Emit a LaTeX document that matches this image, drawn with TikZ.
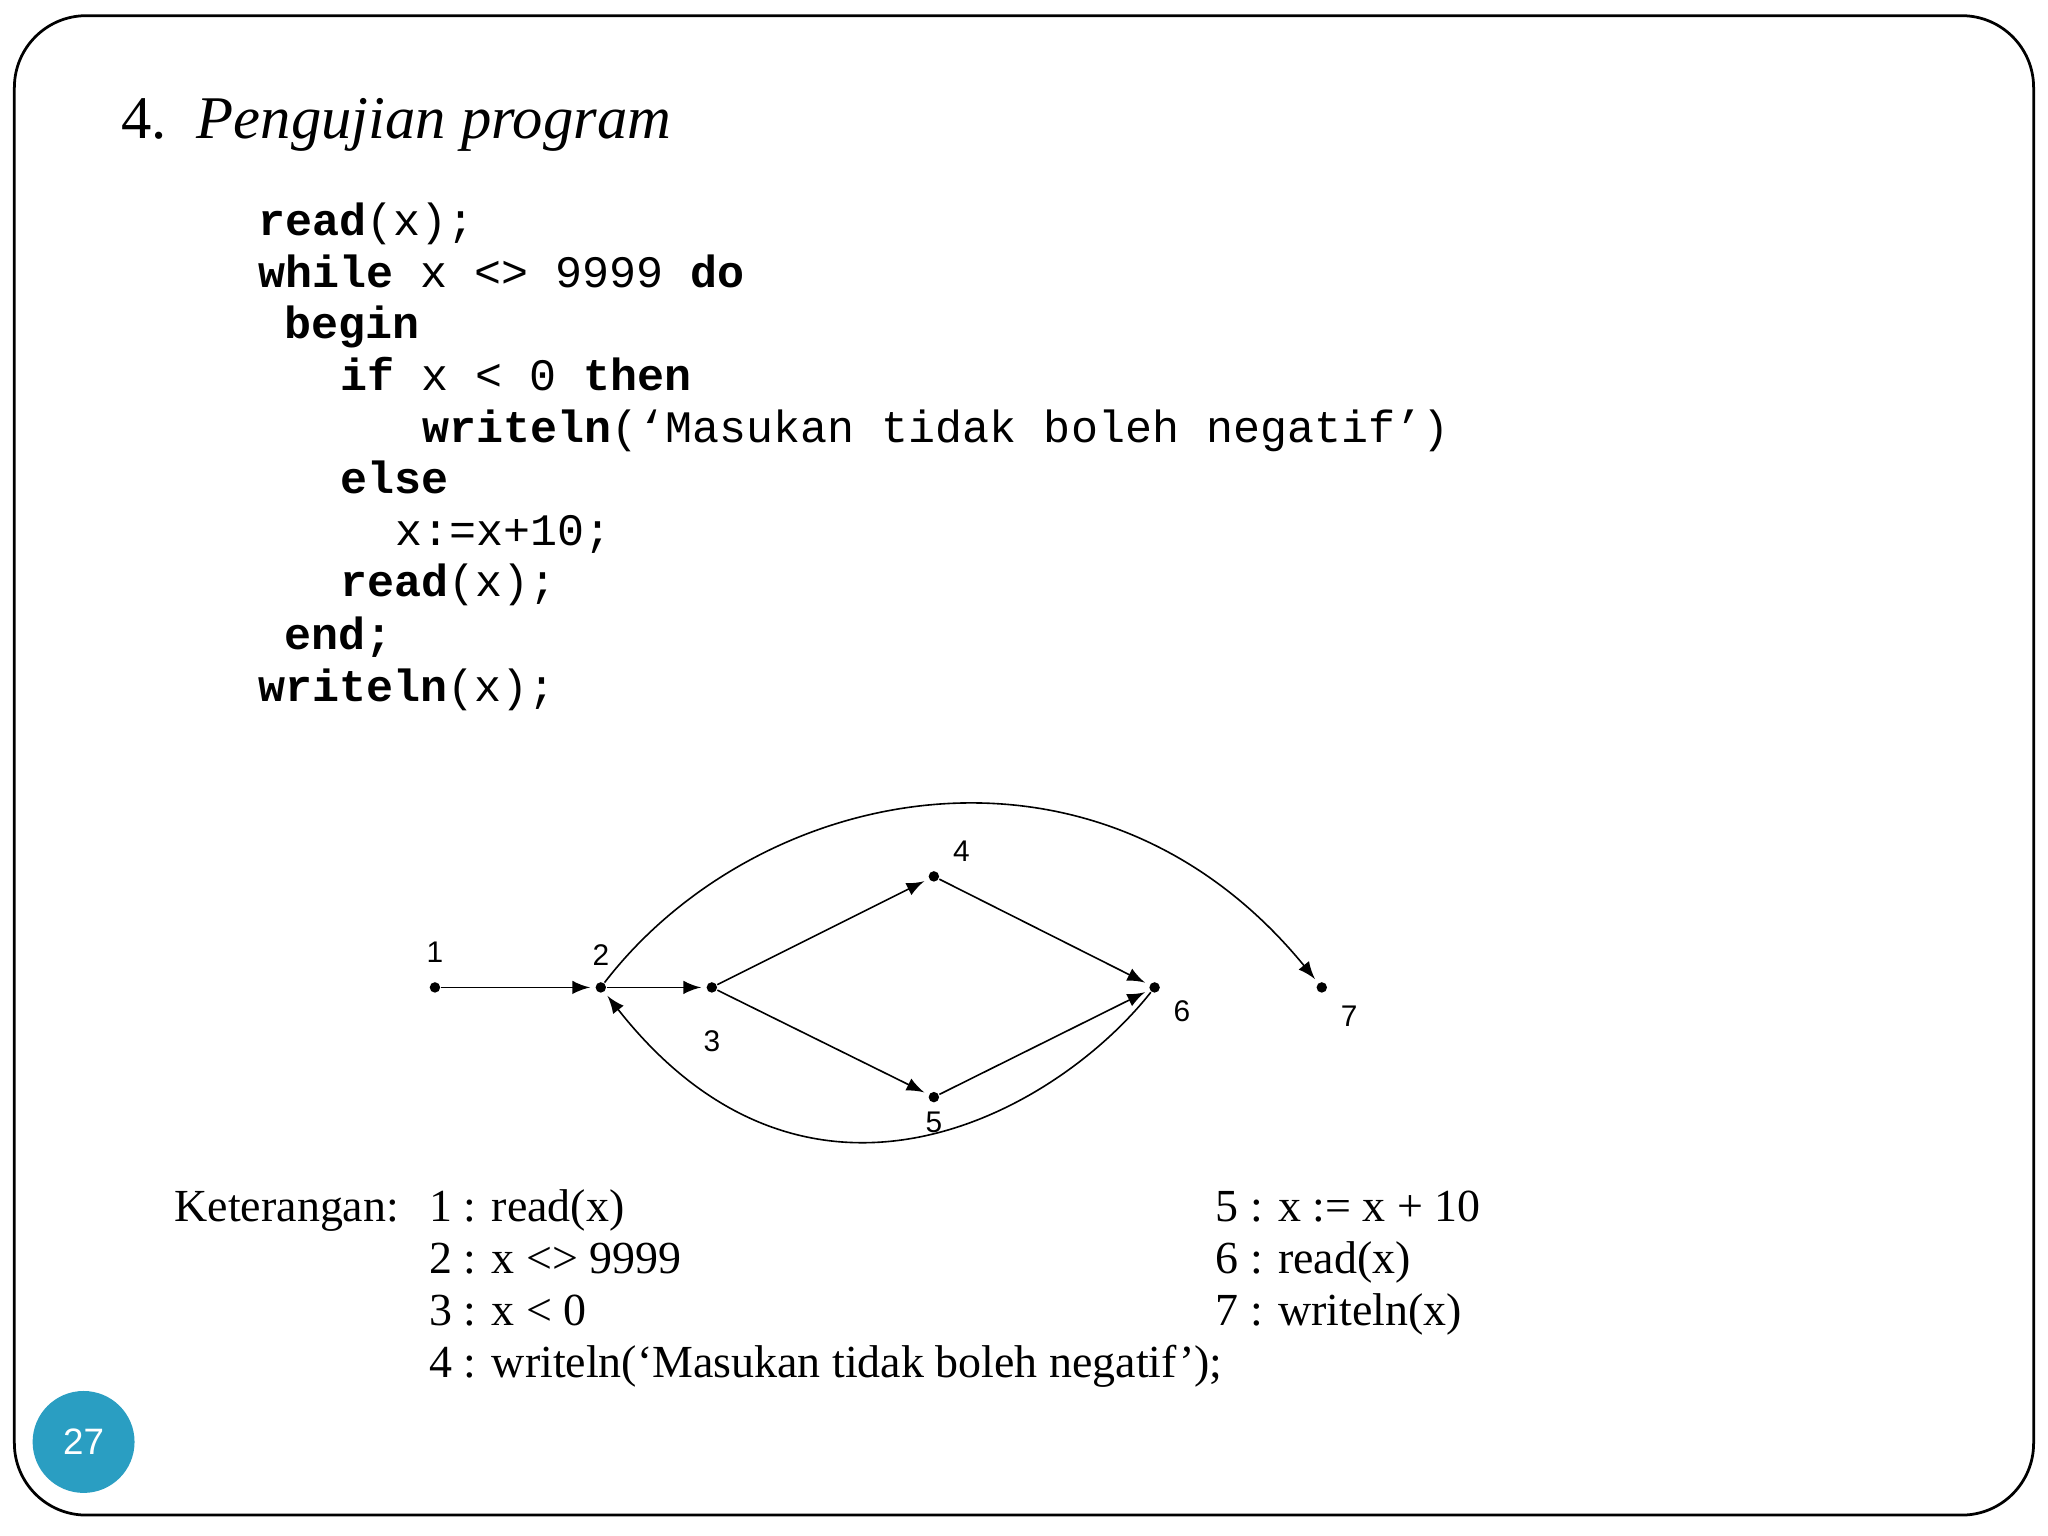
\documentclass[tikz,border=0pt]{standalone}
\usepackage{fontspec}
\setmainfont{Liberation Serif}
\setmonofont{Liberation Mono}
\newfontfamily\arialf{Liberation Sans}
\definecolor{pgblue}{HTML}{2A9EC2}
\begin{document}
\begin{tikzpicture}[x=0.01cm,y=-0.01cm,
  dot/.style={circle,fill,inner sep=0pt,minimum size=0.08cm},
  lbl/.style={font=\arialf\fontsize{6.5pt}{7pt}\selectfont},
  code/.style={anchor=base west,inner sep=0pt,font=\ttfamily\fontsize{9.8pt}{11pt}\selectfont},
  ket/.style={anchor=base west,inner sep=0pt,font=\fontsize{10pt}{12pt}\selectfont},
  edge/.style={-latex,line width=0.35pt,shorten >=1pt}]
\useasboundingbox (0,0) rectangle (1568,1176);
\draw[line width=0.6pt,rounded corners=0.55cm] (11,12) rectangle (1557,1160);
\node[circle,fill=pgblue,minimum size=0.78cm,inner sep=0pt,text=white,font=\arialf\fontsize{8pt}{9pt}\selectfont] (pg) at (64,1104) {27};
\node[anchor=base west,inner sep=0pt,font=\fontsize{13.2pt}{15pt}\selectfont] (title) at (92,106) {4.\ \ \textit{Pengujian program}};
\node[code] (c1) at (197,180) {\textbf{read}(x);};
\node[code] (c2) at (197,220) {\textbf{while} x <> 9999 \textbf{do}};
\node[code] (c3) at (217,259) {\textbf{begin}};
\node[code] (c4) at (260,299) {\textbf{if} x < 0 \textbf{then}};
\node[code] (c5) at (323,339) {\textbf{writeln}(‘Masukan tidak boleh negatif’)};
\node[code] (c6) at (260,378) {\textbf{else}};
\node[code] (c7) at (302,418) {x:=x+10;};
\node[code] (c8) at (260,457) {\textbf{read}(x);};
\node[code] (c9) at (217,497) {\textbf{end;}};
\node[code] (c10) at (197,537) {\textbf{writeln}(x);};
\node[dot] (n1) at (333,756) {};
\node[dot] (n2) at (460,756) {};
\node[dot] (n3) at (545,756) {};
\node[dot] (n4) at (715,671) {};
\node[dot] (n5) at (715,840) {};
\node[dot] (n6) at (884,756) {};
\node[dot] (n7) at (1012,756) {};
\node[lbl] (l1) at (333,729) {1};
\node[lbl] (l2) at (460,731) {2};
\node[lbl] (l3) at (545,797) {3};
\node[lbl] (l4) at (736,652) {4};
\node[lbl] (l5) at (715,859) {5};
\node[lbl] (l6) at (905,774) {6};
\node[lbl] (l7) at (1033,778) {7};
\draw[edge] (n1) -- (n2);
\draw[edge] (n2) -- (n3);
\draw[edge] (n3) -- (n4);
\draw[edge] (n3) -- (n5);
\draw[edge] (n4) -- (n6);
\draw[edge] (n5) -- (n6);
\draw[edge] (n2) .. controls (580,600) and (840,545) .. (n7);
\draw[edge] (n6) .. controls (810,850) and (620,960) .. (n2);
\node[ket] (k0) at (133,935) {Keterangan:};
\node[ket] (k1) at (328,935) {1 : read(x)};
\node[ket] (k2) at (328,975) {2 : x <> 9999};
\node[ket] (k3) at (328,1015) {3 : x < 0};
\node[ket] (k4) at (328,1055) {4 : writeln(‘Masukan tidak boleh negatif’);};
\node[ket] (k5) at (930,935) {5 : x := x + 10};
\node[ket] (k6) at (930,975) {6 : read(x)};
\node[ket] (k7) at (930,1015) {7 : writeln(x)};
\end{tikzpicture}
\end{document}
